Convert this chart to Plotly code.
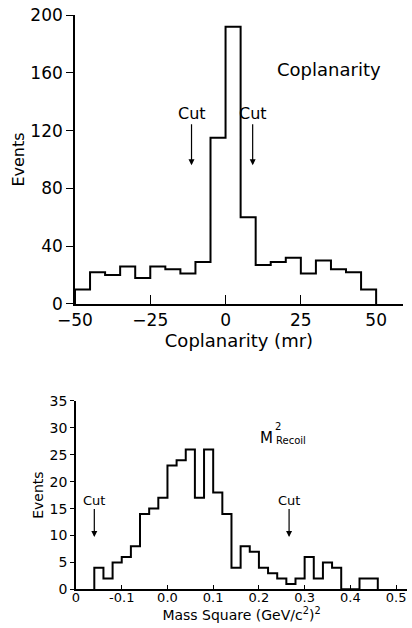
import plotly.graph_objects as go

# ---------------- data ----------------
# Top: coplanarity histogram (5 mr bins from -50 to 50)
cop_edges = [-50, -45, -40, -35, -30, -25, -20, -15, -10, -5, 0,
             5, 10, 15, 20, 25, 30, 35, 40, 45, 50]
cop_counts = [10, 22, 20, 26, 18, 26, 24, 21, 29, 115,
              192, 60, 27, 29, 32, 21, 30, 24, 22, 10]
cop_xticks = [-50, -25, 0, 25, 50]
cop_yticks = [0, 40, 80, 120, 160, 200]
cop_cuts = [-11.3, 9.0]

# Bottom: recoil mass squared histogram (0.02 bins)
m2_edges = [-0.16, -0.14, -0.12, -0.10, -0.08, -0.06, -0.04, -0.02, 0.00,
            0.02, 0.04, 0.06, 0.08, 0.10, 0.12, 0.14, 0.16, 0.18, 0.20,
            0.22, 0.24, 0.26, 0.28, 0.30, 0.32, 0.34, 0.36, 0.38, 0.40,
            0.42, 0.44, 0.46]
m2_counts = [4, 2, 5, 6, 8, 14, 15, 17, 23, 24, 26, 17, 26, 18, 14,
             4, 8, 7, 4, 3, 2, 1, 2, 6, 2, 5, 4, 0, 0, 2, 2]
m2_xticks = [-0.2, -0.1, 0.0, 0.1, 0.2, 0.3, 0.4, 0.5]
m2_xticktext = ["0", "-0.1", "0.0", "0.1", "0.2", "0.3", "0.4", "0.5"]
m2_yticks = [0, 5, 10, 15, 20, 25, 30, 35]
m2_cuts = [-0.16, 0.266]


def step_xy(edges, counts):
    xs = [edges[0]] + list(edges[:-1]) + [edges[-1]]
    ys = [0] + list(counts) + [0]
    return xs, ys


FONT = "DejaVu Sans"
fig = go.Figure()

x1, y1 = step_xy(cop_edges, cop_counts)
fig.add_trace(go.Scatter(x=x1, y=y1, mode="lines", line=dict(shape="hv", color="black", width=2),
                         xaxis="x", yaxis="y", showlegend=False, hoverinfo="skip"))
x2, y2 = step_xy(m2_edges, m2_counts)
fig.add_trace(go.Scatter(x=x2, y=y2, mode="lines", line=dict(shape="hv", color="black", width=2),
                         xaxis="x2", yaxis="y2", showlegend=False, hoverinfo="skip"))

axis_common = dict(showline=True, linecolor="black", linewidth=1.6, showgrid=False,
                   zeroline=False, tickcolor="black", automargin=False, ticklen=6, tickwidth=1.4)

fig.update_layout(
    width=412, height=628,
    margin=dict(l=0, r=0, t=0, b=0),
    paper_bgcolor="white", plot_bgcolor="white",
    font=dict(family=FONT, color="black"),
    xaxis=dict(axis_common, domain=[0.182, 0.978], range=[-50, 58.9], tickvals=cop_xticks,
               ticks="inside", ticklen=9, anchor="y", tickfont=dict(size=17),
               title=dict(text="Coplanarity (mr)", font=dict(size=18), standoff=0)),
    yaxis=dict(axis_common, domain=[0.516, 0.976], range=[0, 200], tickvals=cop_yticks,
               ticks="outside", ticklen=7, anchor="x", tickfont=dict(size=17),
               title=dict(text="Events", font=dict(size=16), standoff=2)),
    xaxis2=dict(axis_common, domain=[0.1845, 0.988], range=[-0.2, 0.524], tickvals=m2_xticks,
                ticktext=m2_xticktext, ticks="inside", ticklen=5, anchor="y2",
                tickfont=dict(size=13), ticklabelstandoff=-5,
                title=dict(text="Mass Square (GeV/c<sup>2</sup>)<sup>2</sup>", font=dict(size=14), standoff=0)),
    yaxis2=dict(axis_common, domain=[0.0616, 0.3615], range=[0, 35], tickvals=m2_yticks,
                ticks="outside", ticklen=4, anchor="x2", tickfont=dict(size=14),
                title=dict(text="Events", font=dict(size=14), standoff=3)),
)

# Cut arrows
for c in cop_cuts:
    fig.add_annotation(x=c, y=96, xref="x", yref="y", text="Cut", showarrow=True,
                       ax=0, ay=-52, arrowhead=2, arrowsize=1, arrowwidth=1.2,
                       arrowcolor="black", font=dict(size=16), standoff=0)
for c in m2_cuts:
    fig.add_annotation(x=c, y=9.7, xref="x2", yref="y2", text="Cut", showarrow=True,
                       ax=0, ay=-37, arrowhead=2, arrowsize=1, arrowwidth=1.2,
                       arrowcolor="black", font=dict(size=13), standoff=0)

fig.add_annotation(x=34.5, y=162, xref="x", yref="y", text="Coplanarity", showarrow=False,
                   font=dict(size=18))

fig.add_annotation(x=0.216, y=28.1, xref="x2", yref="y2", text="M", showarrow=False,
                   font=dict(size=15))
fig.add_annotation(x=0.2415, y=30.2, xref="x2", yref="y2", text="2", showarrow=False,
                   font=dict(size=10))
fig.add_annotation(x=0.234, y=27.6, xref="x2", yref="y2", text="Recoil", showarrow=False,
                   xanchor="left", font=dict(size=10))

fig.write_html("out.html", config={"displayModeBar": False},
               post_script="document.body.style.margin='0';document.body.style.overflow='hidden';")
